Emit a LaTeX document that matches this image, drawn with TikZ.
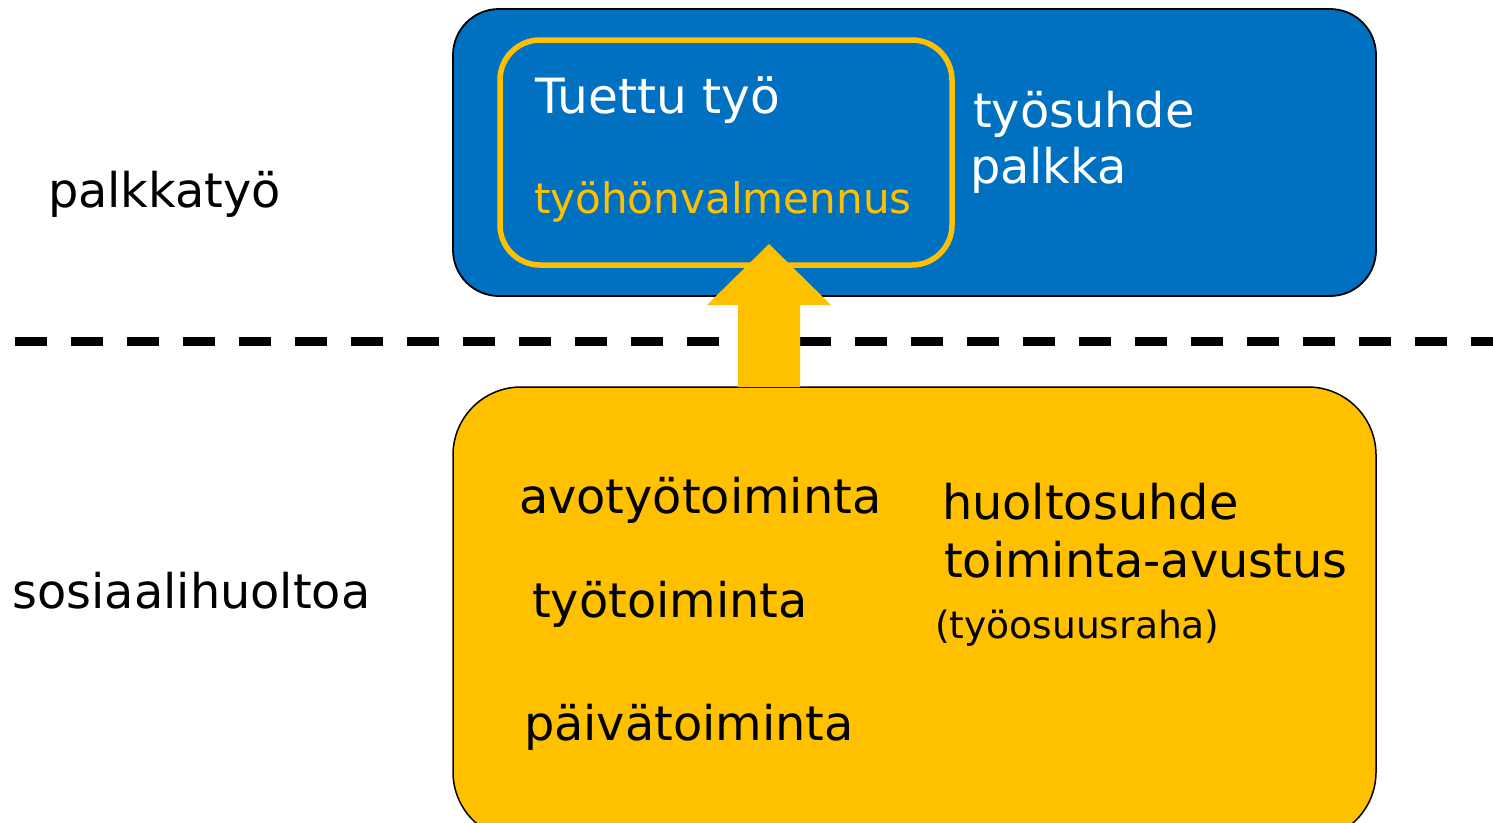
\documentclass[tikz,border=0pt]{standalone}
\usepackage{fontspec}
\setmainfont{DejaVu Sans}
\usetikzlibrary{calc}
\definecolor{pblue}{HTML}{0070C0}
\definecolor{pyel}{HTML}{FFC000}
\begin{document}
\begin{tikzpicture}[x=1pt,y=-1pt,
  bigbox/.style={rectangle, draw=black, line width=1.8pt, inner sep=0pt, outer sep=0pt},
  lbl/.style={anchor=base west, inner sep=0pt, outer sep=0pt, font=\fontsize{47.8}{56}\selectfont},
  smalllbl/.style={anchor=base west, inner sep=0pt, outer sep=0pt, font=\fontsize{42.1}{50}\selectfont},
  tinylbl/.style={anchor=base west, inner sep=0pt, outer sep=0pt, font=\fontsize{37.6}{44}\selectfont}]
\useasboundingbox (0,0) rectangle (1493,822);
\clip (0,0) rectangle (1493,822);
\fill[white] (0,0) rectangle (1493,822);
% upper box
\node[bigbox, fill=pblue, rounded corners=46pt, minimum width=923pt, minimum height=287pt] (paid) at (914.5,152.5) {};
\node[rectangle, draw=pyel, line width=5.5pt, rounded corners=40pt, minimum width=452pt, minimum height=225pt, inner sep=0pt, outer sep=0pt] (inner) at (726,152.5) {};
% divider
\draw[line width=8.5pt, dash pattern=on 32pt off 24pt] (15,341.5) -- (1493,341.5);
% lower box
\node[bigbox, fill=pyel, line width=1.5pt, rounded corners=68pt, minimum width=923pt, minimum height=453pt] (social) at (914.5,613.5) {};
% block arrow
\coordinate (atip) at (769,244);
\coordinate (abase) at (atip |- social.north);
\fill[pyel] ($(abase)+(-31,0)$) -- ($(atip)+(-31,61)$) -- ($(atip)+(-62,61)$) -- (atip)
  -- ($(atip)+(62,61)$) -- ($(atip)+(31,61)$) -- ($(abase)+(31,0)$) -- cycle;
% texts
\node[lbl] (palkkatyo) at (48,207) {palkkatyö};
\node[lbl] (sosiaali) at (12.5,608) {sosiaalihuoltoa};
\node[lbl, text=white, font=\fontsize{48.6}{56}\selectfont] (tuettu) at (535,113) {Tuettu työ};
\node[smalllbl, text=pyel] (valm) at (534,213) {työhönvalmennus};
\node[lbl, text=white] (suhde) at (973,127) {työsuhde};
\node[lbl, text=white] (palkka) at (970,183) {palkka};
\node[lbl] (avo) at (519,513) {avotyötoiminta};
\node[lbl] (tyot) at (532,617) {työtoiminta};
\node[lbl] (paiva) at (524,740) {päivätoiminta};
\node[lbl] (huolto) at (942,519) {huoltosuhde};
\node[lbl] (avustus) at (944,577) {toiminta-avustus};
\node[tinylbl] (osuus) at (935,638) {(työosuusraha)};
\end{tikzpicture}
\end{document}
